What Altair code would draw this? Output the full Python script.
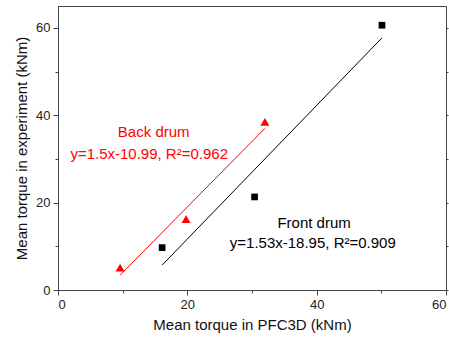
import altair as alt
import pandas as pd

# Data
front_x = [16.1, 30.4, 50.1]
front_y = [9.7, 21.3, 60.6]
back_x = [9.6, 19.8, 32.0]
back_y = [5.1, 16.2, 38.5]

# fitted lines (end points)
front_fit_x = [16.1, 50.1]
front_fit_y = [5.7, 57.7]
back_fit_x = [9.6, 32.0]
back_fit_y = [3.4, 37.0]

x_ticks = [0, 20, 40, 60]
x_minor = [10, 30, 50]
y_ticks = [0, 20, 40, 60]
y_minor = [10, 30, 50]

labels = ["Back drum", "y=1.5x-10.99, R²=0.962", "Front drum", "y=1.53x-18.95, R²=0.909"]
label_x = [14.8, 14.1, 39.6, 39.4]
label_y = [36.1, 31.1, 15.4, 10.8]
label_color = ["#ff0000", "#ff0000", "#000000", "#000000"]

FONT = "Liberation Sans"
AXC = "#444444"

xs = alt.Scale(domain=[0, 60], nice=False, zero=False)
ys = alt.Scale(domain=[0, 65], nice=False, zero=False)

front = pd.DataFrame({"x": front_x, "y": front_y})
back = pd.DataFrame({"x": back_x, "y": back_y})
ffit = pd.DataFrame({"x": front_fit_x, "y": front_fit_y})
bfit = pd.DataFrame({"x": back_fit_x, "y": back_fit_y})
lab = pd.DataFrame({"x": label_x, "y": label_y, "t": labels, "c": label_color})

major_x_axis = alt.Axis(orient="bottom", values=x_ticks, tickSize=5, labelFontSize=13,
                        labelFont=FONT, labelColor="#222222", labelPadding=3,
                        title="Mean torque in PFC3D (kNm)", titleFont=FONT,
                        titleFontSize=15, titleFontWeight="normal", titleColor="#111111",
                        titlePadding=6, grid=False, domainColor=AXC, tickColor=AXC)
major_y_axis = alt.Axis(orient="left", values=y_ticks, tickSize=5, labelFontSize=13,
                        labelFont=FONT, labelColor="#222222", labelPadding=3,
                        title="Mean torque in experiment (kNm)", titleFont=FONT,
                        titleFontSize=15, titleFontWeight="normal", titleColor="#111111",
                        titlePadding=6, grid=False, domainColor=AXC, tickColor=AXC)
minor_x_axis = alt.Axis(orient="bottom", values=x_minor, tickSize=3, labels=False,
                        domain=False, title="", grid=False, tickColor=AXC)
minor_y_axis = alt.Axis(orient="left", values=y_minor, tickSize=3, labels=False,
                        domain=False, title="", grid=False, tickColor=AXC)
right_axis = alt.Axis(orient="right", values=[0, 10, 20, 30, 40, 50, 60], tickSize=2,
                      labels=False, domain=False, title="", grid=False, tickColor=AXC)

squares = alt.Chart(front).mark_point(shape="square", filled=True, color="black",
                                      size=45, opacity=1).encode(
    x=alt.X("x:Q", scale=xs, axis=major_x_axis),
    y=alt.Y("y:Q", scale=ys, axis=major_y_axis),
)
triangles = alt.Chart(back).mark_point(shape="triangle-up", filled=True, color="#ff0000",
                                       size=80, opacity=1).encode(
    x=alt.X("x:Q", scale=xs, axis=minor_x_axis),
    y=alt.Y("y:Q", scale=ys, axis=minor_y_axis),
)
fline = alt.Chart(ffit).mark_line(color="black", strokeWidth=1).encode(
    x=alt.X("x:Q", scale=xs, axis=None),
    y=alt.Y("y:Q", scale=ys, axis=right_axis),
)
bline = alt.Chart(bfit).mark_line(color="#ff0000", strokeWidth=1).encode(
    x=alt.X("x:Q", scale=xs, axis=None),
    y=alt.Y("y:Q", scale=ys, axis=None),
)
texts = alt.Chart(lab).mark_text(font=FONT, fontSize=15, align="center",
                                 baseline="middle").encode(
    x=alt.X("x:Q", scale=xs, axis=None),
    y=alt.Y("y:Q", scale=ys, axis=None),
    text="t:N",
    color=alt.Color("c:N", scale=None),
)

chart = alt.layer(squares, triangles, fline, bline, texts).resolve_axis(
    x="independent", y="independent"
).properties(
    width=388, height=284,
    autosize=alt.AutoSizeParams(type="none"),
    padding={"left": 58, "top": 6, "right": 3, "bottom": 48},
    background="white",
).configure_view(stroke=AXC, strokeWidth=1)

chart.save("out.html", embed_options={"renderer": "svg", "actions": False})
